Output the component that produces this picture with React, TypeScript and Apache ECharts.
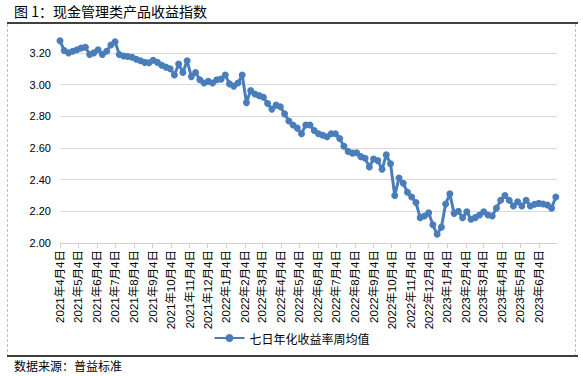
import React, { useEffect, useRef } from "react";
import * as echarts from "echarts";

const TITLE = "图 1：现金管理类产品收益指数";
const SOURCE = "数据来源：普益标准";
const SERIES_NAME = "七日年化收益率周均值";

// Weekly observations starting 2021-04-04 (one value per week)
const weeklyValues: number[] = [
  3.276, 3.215, 3.2, 3.21, 3.22, 3.23, 3.235, 3.19, 3.2, 3.22,
  3.19, 3.21, 3.25, 3.27, 3.19, 3.18, 3.177, 3.172, 3.16, 3.15,
  3.14, 3.137, 3.153, 3.14, 3.122, 3.11, 3.1, 3.06, 3.13, 3.076,
  3.15, 3.05, 3.076, 3.03, 3.01, 3.02, 3.01, 3.03, 3.034, 3.06,
  3.004, 2.99, 3.01, 3.06, 2.886, 2.962, 2.94, 2.93, 2.92, 2.88,
  2.845, 2.87, 2.86, 2.815, 2.77, 2.745, 2.725, 2.69, 2.745, 2.745,
  2.71, 2.69, 2.68, 2.67, 2.69, 2.69, 2.66, 2.61, 2.577, 2.567,
  2.57, 2.545, 2.535, 2.48, 2.53, 2.52, 2.465, 2.556, 2.5, 2.3,
  2.41, 2.377, 2.32, 2.29, 2.255, 2.16, 2.17, 2.19, 2.115, 2.055,
  2.1, 2.246, 2.31, 2.187, 2.2, 2.16, 2.197, 2.15, 2.16, 2.177,
  2.197, 2.177, 2.17, 2.22, 2.27, 2.3, 2.27, 2.234, 2.26, 2.234,
  2.27, 2.234, 2.244, 2.25, 2.246, 2.24, 2.22, 2.29,
];

const tickLabels: string[] = [
  "2021年4月4日", "2021年5月4日", "2021年6月4日", "2021年7月4日",
  "2021年8月4日", "2021年9月4日", "2021年10月4日", "2021年11月4日",
  "2021年12月4日", "2022年1月4日", "2022年2月4日", "2022年3月4日",
  "2022年4月4日", "2022年5月4日", "2022年6月4日", "2022年7月4日",
  "2022年8月4日", "2022年9月4日", "2022年10月4日", "2022年11月4日",
  "2022年12月4日", "2023年1月4日", "2023年2月4日", "2023年3月4日",
  "2023年4月4日", "2023年5月4日", "2023年6月4日",
];

const START = Date.UTC(2021, 3, 4);
const END = Date.UTC(2023, 6, 4);

function fmt(t: number): string {
  const d = new Date(t);
  return `${d.getUTCFullYear()}年${d.getUTCMonth() + 1}月${d.getUTCDate()}日`;
}

const dayCategories: string[] = [];
for (let t = START; t <= END; t += 86400000) dayCategories.push(fmt(t));

const tickSet = new Set(tickLabels);

export default function App() {
  const ref = useRef<HTMLDivElement>(null);
  useEffect(() => {
    if (!ref.current) return;
    const chart = echarts.init(ref.current, undefined, { renderer: "svg" });
    const seriesData = weeklyValues.map((v, i) => [dayCategories[i * 7], v]);
    const cjk = "Liberation Sans, Arial, 'Noto Sans CJK SC', sans-serif";
    chart.setOption({
      animation: false,
      backgroundColor: "#ffffff",
      grid: { left: 60, right: 26, top: 37, bottom: 133, containLabel: false },
      xAxis: {
        type: "category",
        data: dayCategories,
        boundaryGap: false,
        axisLine: { show: true, lineStyle: { color: "#d0d0d0", width: 1 } },
        axisTick: {
          show: true,
          interval: (_i: number, v: string) => tickSet.has(v),
          length: 5,
          lineStyle: { color: "#d0d0d0" },
        },
        axisLabel: {
          interval: (_i: number, v: string) => tickSet.has(v),
          rotate: 90,
          fontSize: 11.5,
          color: "#000",
          fontFamily: cjk,
          margin: 7,
        },
        splitLine: { show: false },
      },
      yAxis: {
        type: "value",
        min: 2.0,
        max: 3.3,
        interval: 0.2,
        axisLine: { show: false },
        axisTick: { show: false },
        axisLabel: {
          formatter: (v: number) => v.toFixed(2),
          showMaxLabel: false,
          fontSize: 11,
          color: "#000",
          fontFamily: cjk,
          margin: 9,
        },
        splitLine: { show: true, showMaxLine: false, lineStyle: { color: "#d9d9d9", width: 1 } },
      },
      legend: {
        show: true,
        left: "center",
        top: 327,
        itemWidth: 30,
        itemHeight: 10,
        data: [{ name: SERIES_NAME }],
        textStyle: { fontSize: 12, color: "#000", fontFamily: "'Noto Sans CJK SC', sans-serif" },
      },
      series: [
        {
          name: SERIES_NAME,
          type: "line",
          data: seriesData,
          showAllSymbol: true,
          symbol: "circle",
          symbolSize: 7,
          lineStyle: { color: "#4a7ebb", width: 3 },
          itemStyle: { color: "#4a7ebb" },
          emphasis: { disabled: true },
        },
      ],
      graphic: [
        {
          type: "text",
          left: 14,
          top: 4,
          style: {
            text: TITLE,
            fontSize: 14,
            fontFamily: "'Noto Sans CJK SC', sans-serif",
            fill: "#000",
          },
        },
        {
          type: "line",
          shape: { x1: 7, y1: 23, x2: 578, y2: 23 },
          style: { stroke: "#000", lineWidth: 1.5 },
        },
        {
          type: "line",
          shape: { x1: 7.5, y1: 24, x2: 7.5, y2: 355 },
          style: { stroke: "#bfbfbf", lineWidth: 1, lineDash: [3, 2] },
        },
        {
          type: "line",
          shape: { x1: 575.5, y1: 24, x2: 575.5, y2: 355 },
          style: { stroke: "#bfbfbf", lineWidth: 1, lineDash: [3, 2] },
        },
        {
          type: "line",
          shape: { x1: 7, y1: 356, x2: 578, y2: 356 },
          style: { stroke: "#000", lineWidth: 1.5 },
        },
        {
          type: "text",
          left: 14,
          top: 359,
          style: {
            text: SOURCE,
            fontSize: 12,
            fontFamily: "'Noto Sans CJK SC', sans-serif",
            fill: "#000",
          },
        },
      ],
    });
    return () => chart.dispose();
  }, []);
  return (
    <div
      ref={ref}
      style={{ position: "fixed", left: 0, top: 0, width: 583, height: 376 }}
    />
  );
}
